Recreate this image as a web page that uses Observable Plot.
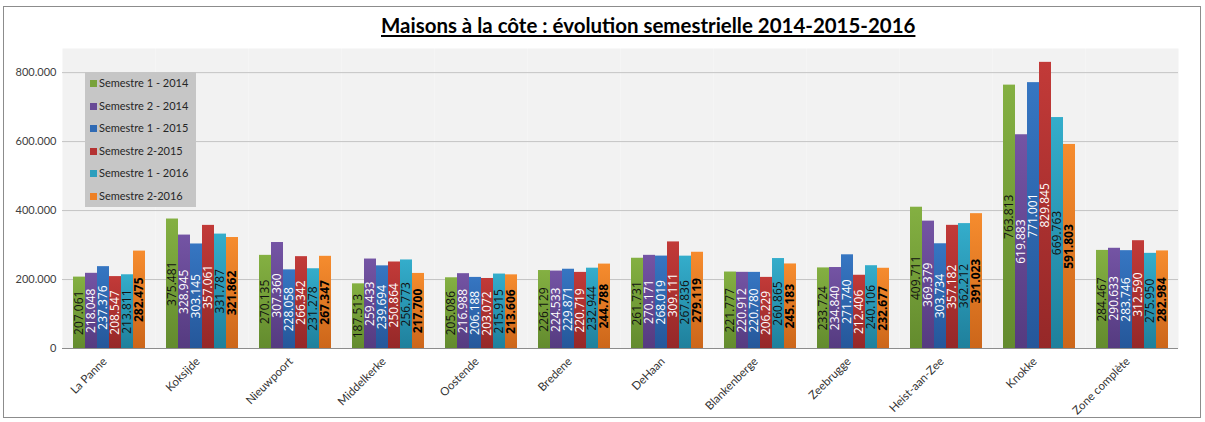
<!DOCTYPE html>
<html><head><meta charset="utf-8">
<script src="https://cdn.jsdelivr.net/npm/d3@7"></script>
<script src="https://cdn.jsdelivr.net/npm/@observablehq/plot@0.6"></script>
<style>
body{margin:0;background:#fff;}
#wrap{position:relative;width:1205px;height:422px;overflow:hidden;background:#fff;}
#border{position:absolute;left:3px;top:6px;width:1198px;height:412px;border:1px solid #8c8c8c;box-sizing:border-box;}
#title{position:relative;width:1205px;height:40px;}
#title span{position:absolute;left:381px;top:13px;font-family:Lato,sans-serif;font-weight:bold;font-size:20px;text-decoration:underline;text-underline-offset:2px;white-space:nowrap;color:#000;}
#chart{position:absolute;left:0;top:40px;}
#legend{position:absolute;left:85px;top:72px;width:111px;height:135px;background:#c6c6c6;font-family:Lato,sans-serif;font-size:11px;color:#262626;}
#legend div{position:absolute;left:5px;height:14px;line-height:14px;white-space:nowrap;}
#legend i{display:inline-block;width:7px;height:7px;margin-right:2px;vertical-align:0px;}
</style></head>
<body>
<div id="wrap">
  <div id="border"></div>
  <div id="title"><span id="tt">Maisons à la côte : évolution semestrielle 2014-2015-2016</span></div>
  <div id="chart"></div>
  <div id="legend"></div>
</div>
<script>
const communes = ["La Panne","Koksijde","Nieuwpoort","Middelkerke","Oostende","Bredene","DeHaan","Blankenberge","Zeebrugge","Heist-aan-Zee","Knokke","Zone complète"];
const series = ["Semestre 1 - 2014","Semestre 2 - 2014","Semestre 1 - 2015","Semestre 2-2015","Semestre 1 - 2016","Semestre 2-2016"];
const s1_2014 = [207061,375481,270135,187513,205086,226129,261731,221777,233724,409711,763813,284467];
const s2_2014 = [218048,328945,307360,259433,216988,224533,270171,220912,234840,369379,619883,290633];
const s1_2015 = [237376,303145,228058,239694,206188,229871,268019,220780,271740,303734,771001,283746];
const s2_2015 = [208547,357061,266342,250864,203072,220719,309111,206229,212406,357182,829845,312590];
const s1_2016 = [213811,331787,231278,256773,215915,232944,267836,260865,240106,362212,669763,275950];
const s2_2016 = [282475,321862,267347,217700,213606,244788,279119,245183,232677,391023,591803,282984];
const yTicks = [0,200000,400000,600000,800000];

const seriesValues = [s1_2014,s2_2014,s1_2015,s2_2015,s1_2016,s2_2016];
const swatch = ["#78a23a","#684a96","#2f6ab4","#b43232","#2b9ebd","#ee8024"];
const gradTop = ["#84b042","#7454a4","#3676c2","#c23a38","#34adcb","#f68c2e"];
const gradBot = ["#638b2e","#553b80","#25579a","#952828","#1f809c","#cc661a"];
const labelColor = ["#111","#fff","#fff","#fff","#111","#000"];

const rows = [];
communes.forEach((c,ci)=>seriesValues.forEach((arr,si)=>rows.push({commune:c,series:series[si],si,value:arr[ci]})));

const fmt = v => v===0 ? "0" : d3.format(",")(v).replace(/,/g,".");

const chart = Plot.plot({
  width:1205, height:382,
  marginLeft:60, marginRight:25, marginTop:8, marginBottom:74,
  fx:{domain:communes, padding:0, axis:null},
  x:{domain:series, axis:null, paddingInner:0, paddingOuter:0.6},
  y:{domain:[0,870000], ticks:yTicks, tickFormat:fmt, label:null, tickSize:0, tickPadding:6},
  color:{type:"identity"},
  style:{fontFamily:"Lato, sans-serif", fontSize:"11px", color:"#404040", background:"transparent"},
  marks:[
    Plot.frame({fill:"#f2f2f2", stroke:null}),
    Plot.gridY(yTicks.slice(1),{stroke:"#c4c4c4", strokeOpacity:1}),
    Plot.barY(rows,{fx:"commune", x:"series", y:"value", fill:d=>`url(#g${d.si})`}),
    Plot.ruleY([0],{stroke:"#8c8c8c"}),
    Plot.axisFx({anchor:"bottom", label:null, tickRotate:-45, tickSize:0, tickPadding:11, dx:-4, fontSize:11.5, fill:"#333"}),
    Plot.text(rows.filter(d=>d.si<5),{fx:"commune", x:"series", y:d=>d.value/2, text:d=>fmt(d.value), rotate:-90, fill:d=>labelColor[d.si], fontSize:12, fontFamily:"Open Sans, sans-serif"}),
    Plot.text(rows.filter(d=>d.si===5),{fx:"commune", x:"series", y:d=>d.value/2, text:d=>fmt(d.value), rotate:-90, fill:d=>labelColor[d.si], fontSize:12, fontWeight:"bold", fontFamily:"Open Sans, sans-serif"})
  ]
});
const defs = d3.select(chart).insert("defs",":first-child");
series.forEach((s,i)=>{
  const g = defs.append("linearGradient").attr("id","g"+i).attr("x1",0).attr("y1",0).attr("x2",0).attr("y2",1);
  g.append("stop").attr("offset","0%").attr("stop-color",gradTop[i]);
  g.append("stop").attr("offset","100%").attr("stop-color",gradBot[i]);
});
document.getElementById("chart").append(chart);

const lg = document.getElementById("legend");
series.forEach((s,i)=>{
  const d = document.createElement("div");
  d.style.top = (4 + i*22.6) + "px";
  d.innerHTML = `<i style="background:${swatch[i]}"></i>${s}`;
  lg.append(d);
});
const tt = document.getElementById("tt");
const w = tt.getBoundingClientRect().width;
tt.style.fontSize = (20*535/w).toFixed(2)+"px";
</script>
</body></html>
